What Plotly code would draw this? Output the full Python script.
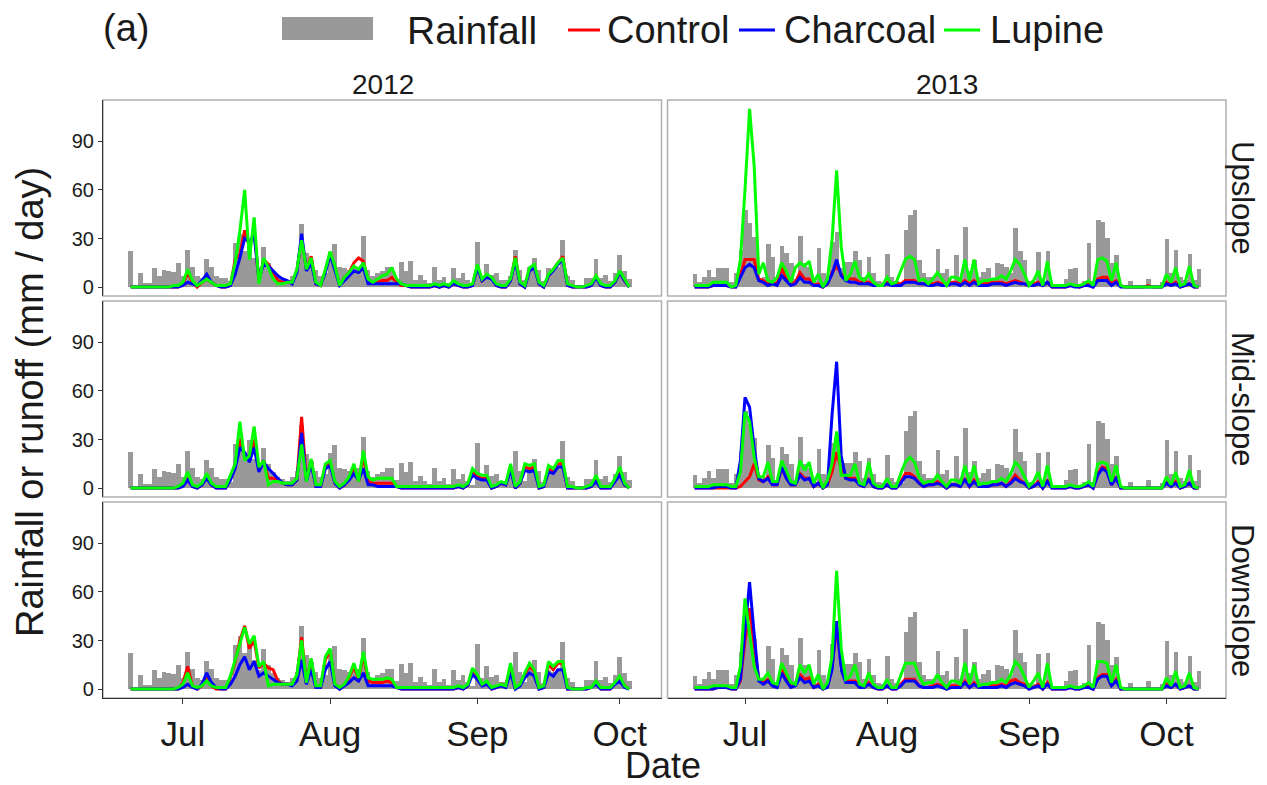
import pandas as pd
import plotly.graph_objects as go
from plotly.subplots import make_subplots

# ---------------- data ----------------
start_2012 = "2012-06-20"
start_2013 = "2013-06-20"
month_ticks = ["Jul", "Aug", "Sep", "Oct"]
slopes = ["Upslope", "Mid-slope", "Downslope"]
years = ["2012", "2013"]

rain_2012 = [22, 0, 8.6, 2.5, 2.5, 11.5, 6.6, 10.7, 10, 9.6,
             15, 6.6, 22.6, 12.3, 6.6, 5.5, 17.3, 12.7, 7, 5.5,
             5.5, 3.5, 27, 33, 22, 30, 18, 12, 24.5, 15,
             10, 6.6, 5.5, 4.5, 6.6, 10.7, 39, 21, 17, 10.7,
             6.6, 8.6, 21.6, 26.7, 12.7, 11.7, 10.7, 12.7, 12.7, 31.6,
             10.7, 6.6, 8.6, 10, 12.7, 12.7, 5, 15.2, 10, 16.2,
             4.5, 7.6, 4.5, 2.3, 12.7, 4.5, 6.2, 2.5, 11.7, 5.5,
             8.6, 4.5, 2, 28, 6.6, 14.2, 7.6, 8.6, 4.5, 4.5,
             6.6, 22.6, 10.7, 4.5, 12.3, 17.9, 10.7, 4, 11.5, 10.7,
             12.7, 29, 6.6, 4.5, 0, 0, 5.5, 5.5, 17.3, 5.5,
             7.6, 3.5, 8.6, 20, 9.7, 5]

rain_2013 = [7.8, 3.3, 6.4, 10.5, 6.4, 12, 12, 12, 3.3, 8.4,
             22.8, 47.5, 39.7, 31, 5, 6, 26.3, 18.5, 4, 25.3,
             20.8, 14.6, 5, 31.4, 14.6, 12.7, 4, 24.1, 8.4, 3,
             28, 34, 12, 15.6, 15.6, 22.2, 16.6, 6, 18.7, 8.4,
             4, 3, 20.3, 6.4, 4, 3, 35.1, 44.4, 47.5, 16.6,
             8.4, 6, 6, 23.6, 8.4, 11, 4, 19.7, 6, 37.2,
             10, 17, 6, 9.4, 11.5, 5, 15, 14, 12.5, 9,
             36.6, 22.4, 16.6, 4, 3, 21.8, 3, 22.4, 2, 0,
             0, 5, 11, 11.5, 0, 4, 27.3, 4, 41.7, 40.3,
             30.4, 14.6, 19.7, 0, 0, 3.9, 0, 0, 0, 5.3,
             0, 0, 3, 30, 8.4, 23.2, 6.4, 4.3, 20.3, 4.3, 11.3]

# ----- 2012 runoff -----
up_control_2012 = [0, 0, 0, 0, 0, 0, 0, 0, 0, 0,
                   0, 2, 9, 3, 0, 3, 5, 3, 1, 0,
                   0, 1, 17, 20, 35, 25, 35, 4, 17, 14,
                   9, 4, 3, 3, 3, 10, 30, 11, 19, 2,
                   1, 10, 21, 12, 1, 6, 9, 15, 18, 16,
                   4, 2, 3, 4, 4, 6, 3, 1, 1, 0,
                   0, 0, 0, 0, 1, 0, 1, 0, 2, 1,
                   0, 0, 1, 13, 4, 7, 6, 1, 0, 0,
                   4, 19, 2, 0, 11, 13, 2, 0, 7, 11,
                   15, 19, 1, 0, 0, 0, 0, 1, 7, 1,
                   0, 0, 3, 9, 4, 0]
up_charcoal_2012 = [0, 0, 0, 0, 0, 0, 0, 0, 0, 0,
                    0, 1, 3, 2, 1, 4, 8, 3, 1, 0,
                    0, 1, 8, 18, 30, 28, 32, 5, 14, 13,
                    10, 7, 5, 4, 2, 9, 33, 10, 15, 2,
                    1, 9, 20, 11, 1, 4, 7, 10, 9, 12,
                    2, 2, 2, 2, 2, 2, 2, 2, 1, 0,
                    0, 0, 0, 0, 1, 0, 1, 0, 2, 1,
                    0, 0, 1, 12, 4, 6, 5, 1, 0, 0,
                    4, 16, 2, 0, 10, 12, 2, 0, 7, 10,
                    14, 17, 1, 0, 0, 0, 0, 1, 6, 1,
                    0, 0, 3, 9, 4, 0]
up_lupine_2012 = [0, 0, 0, 0, 0, 0, 0, 0, 0, 1,
                  1, 3, 11, 4, 1, 3, 5, 3, 1, 1,
                  1, 2, 15, 35, 60, 17, 43, 2, 18, 12,
                  5, 2, 2, 3, 3, 11, 29, 11, 18, 3,
                  1, 11, 22, 13, 1, 6, 9, 13, 11, 15,
                  5, 3, 5, 7, 8, 12, 5, 2, 1, 1,
                  1, 1, 1, 1, 2, 1, 2, 1, 4, 2,
                  1, 1, 2, 14, 5, 8, 6, 2, 1, 1,
                  5, 18, 3, 1, 12, 14, 3, 1, 8, 11,
                  15, 18, 2, 1, 0, 0, 1, 2, 7, 2,
                  1, 1, 4, 10, 5, 0]

mid_control_2012 = [0, 0, 0, 0, 0, 0, 0, 0, 0, 0,
                    0, 2, 7, 1, 0, 2, 7, 2, 0, 0,
                    0, 6, 14, 30, 20, 18, 30, 12, 17, 6,
                    6, 5, 3, 2, 2, 5, 44, 5, 17, 1,
                    1, 13, 16, 3, 0, 2, 6, 13, 4, 20,
                    4, 3, 3, 3, 3, 3, 1, 0, 0, 0,
                    0, 0, 0, 0, 0, 0, 0, 0, 0, 1,
                    0, 2, 10, 7, 6, 6, 0, 1, 3, 2,
                    13, 0, 3, 13, 12, 13, 0, 1, 12, 10,
                    15, 15, 0, 0, 0, 0, 0, 1, 6, 0,
                    0, 0, 5, 10, 2, 0]
mid_charcoal_2012 = [0, 0, 0, 0, 0, 0, 0, 0, 0, 0,
                     0, 1, 5, 1, 0, 2, 6, 2, 0, 0,
                     0, 5, 12, 25, 22, 16, 25, 10, 16, 12,
                     9, 6, 3, 2, 2, 5, 34, 4, 15, 1,
                     1, 12, 14, 3, 0, 2, 5, 9, 5, 12,
                     2, 2, 1, 1, 1, 1, 1, 0, 0, 0,
                     0, 0, 0, 0, 0, 0, 0, 0, 0, 1,
                     0, 2, 8, 6, 5, 5, 0, 1, 3, 2,
                     11, 0, 3, 11, 10, 11, 0, 1, 10, 9,
                     13, 13, 0, 0, 0, 0, 0, 1, 4, 0,
                     0, 0, 4, 8, 2, 0]
mid_lupine_2012 = [0, 0, 0, 0, 0, 0, 0, 0, 0, 0,
                   1, 3, 10, 2, 1, 3, 9, 3, 1, 1,
                   1, 8, 15, 41, 17, 20, 38, 13, 17, 2,
                   4, 4, 3, 3, 3, 6, 27, 4, 18, 2,
                   2, 15, 17, 4, 1, 3, 7, 15, 4, 23,
                   7, 5, 6, 6, 6, 6, 1, 1, 1, 1,
                   1, 1, 1, 1, 1, 1, 1, 1, 1, 2,
                   1, 3, 12, 9, 8, 8, 1, 2, 4, 3,
                   15, 1, 4, 15, 14, 15, 1, 2, 14, 12,
                   17, 17, 1, 1, 0, 0, 1, 2, 8, 1,
                   1, 1, 6, 13, 3, 0]

down_control_2012 = [0, 0, 0, 0, 0, 0, 0, 0, 0, 0,
                     0, 4, 14, 2, 0, 2, 6, 2, 0, 0,
                     0, 7, 17, 30, 39, 25, 30, 13, 16, 13,
                     12, 5, 3, 3, 3, 8, 32, 4, 18, 1,
                     1, 18, 24, 3, 0, 3, 7, 14, 6, 21,
                     5, 4, 4, 4, 5, 4, 1, 0, 0, 0,
                     0, 0, 0, 0, 0, 0, 0, 0, 0, 1,
                     0, 2, 12, 8, 3, 4, 0, 1, 3, 2,
                     14, 0, 3, 9, 14, 11, 0, 1, 15, 12,
                     16, 16, 0, 0, 0, 0, 0, 1, 4, 0,
                     0, 0, 4, 7, 2, 0]
down_charcoal_2012 = [0, 0, 0, 0, 0, 0, 0, 0, 0, 0,
                      0, 1, 3, 1, 0, 3, 10, 4, 1, 0,
                      0, 3, 8, 15, 20, 12, 17, 8, 10, 8,
                      6, 4, 3, 3, 2, 5, 18, 3, 12, 1,
                      1, 12, 17, 2, 0, 2, 4, 7, 5, 10,
                      2, 2, 2, 2, 2, 2, 1, 0, 0, 0,
                      0, 0, 0, 0, 0, 0, 0, 0, 0, 1,
                      0, 2, 9, 6, 2, 3, 0, 1, 2, 1,
                      10, 0, 2, 7, 10, 8, 0, 1, 10, 8,
                      12, 12, 0, 0, 0, 0, 0, 1, 3, 0,
                      0, 0, 3, 5, 1, 0]
down_lupine_2012 = [0, 0, 0, 0, 0, 0, 0, 0, 0, 0,
                    1, 3, 10, 2, 1, 2, 5, 2, 1, 1,
                    1, 8, 18, 28, 38, 28, 33, 14, 17, 2,
                    3, 3, 3, 3, 3, 9, 30, 4, 19, 2,
                    2, 20, 25, 3, 1, 3, 8, 16, 7, 23,
                    7, 6, 6, 6, 7, 6, 1, 1, 1, 1,
                    1, 1, 1, 1, 1, 1, 1, 1, 1, 2,
                    1, 3, 13, 9, 3, 5, 1, 2, 3, 2,
                    16, 1, 3, 10, 16, 12, 1, 2, 17, 14,
                    17, 17, 1, 0, 0, 0, 1, 1, 5, 1,
                    1, 1, 4, 8, 2, 0]

# ----- 2013 runoff -----
up_control_2013 = [0, 0, 0, 0, 1, 1, 1, 1, 0, 0,
                   7, 17, 17, 17, 5, 4, 2, 3, 2, 12,
                   5, 2, 3, 9, 5, 5, 1, 2, 0, 2,
                   9, 13, 8, 6, 5, 5, 3, 3, 3, 2,
                   1, 1, 3, 2, 2, 2, 4, 4, 4, 2,
                   2, 2, 2, 3, 2, 1, 3, 3, 2, 4,
                   2, 4, 2, 2, 2, 3, 3, 3, 2, 3,
                   4, 3, 2, 1, 2, 3, 1, 3, 0, 0,
                   0, 0, 1, 1, 0, 1, 2, 1, 5, 6,
                   6, 2, 4, 1, 0, 0, 0, 0, 0, 1,
                   0, 0, 0, 3, 1, 3, 0, 1, 2, 0, 0]
up_charcoal_2013 = [0, 0, 0, 0, 1, 1, 1, 1, 0, 0,
                    6, 12, 14, 12, 4, 3, 1, 2, 1, 7,
                    4, 1, 2, 6, 3, 3, 1, 1, 0, 2,
                    8, 17, 7, 4, 3, 3, 2, 2, 2, 1,
                    1, 1, 2, 1, 1, 1, 3, 3, 3, 2,
                    2, 1, 1, 2, 1, 1, 2, 2, 1, 3,
                    1, 3, 1, 1, 1, 2, 2, 2, 1, 2,
                    3, 2, 2, 1, 1, 2, 1, 3, 0, 0,
                    0, 0, 1, 0, 0, 1, 1, 0, 4, 4,
                    4, 1, 3, 0, 0, 0, 0, 0, 0, 0,
                    0, 0, 0, 2, 1, 2, 0, 1, 2, 0, 0]
up_lupine_2013 = [1, 1, 1, 1, 3, 3, 3, 3, 0, 1,
                  17, 60, 110, 75, 8, 15, 4, 3, 6, 15,
                  10, 3, 12, 15, 13, 16, 3, 8, 0, 5,
                  29, 72, 25, 4, 8, 16, 6, 4, 8, 3,
                  1, 1, 6, 2, 3, 10, 17, 19, 17, 4,
                  5, 2, 5, 9, 5, 1, 6, 6, 4, 17,
                  4, 17, 2, 4, 4, 5, 5, 7, 5, 10,
                  17, 14, 8, 1, 4, 10, 1, 16, 1, 1,
                  1, 1, 2, 1, 1, 2, 4, 1, 17, 18,
                  16, 4, 15, 1, 0, 0, 0, 0, 0, 0,
                  0, 0, 0, 8, 3, 12, 1, 2, 13, 1, 0]

mid_control_2013 = [0, 0, 0, 0, 0, 0, 0, 0, 0, 0,
                    1, 4, 7, 15, 5, 4, 7, 2, 2, 12,
                    7, 2, 2, 9, 6, 6, 1, 3, 0, 2,
                    10, 22, 12, 6, 6, 6, 2, 1, 6, 1,
                    0, 0, 2, 0, 0, 4, 9, 9, 7, 3,
                    1, 2, 2, 4, 2, 0, 2, 2, 1, 6,
                    1, 5, 1, 1, 1, 2, 2, 3, 1, 4,
                    8, 5, 3, 0, 1, 4, 0, 5, 0, 0,
                    0, 0, 1, 0, 0, 1, 2, 0, 9, 13,
                    12, 2, 7, 0, 0, 0, 0, 0, 0, 0,
                    0, 0, 0, 4, 1, 4, 0, 1, 3, 0, 0]
mid_charcoal_2013 = [0, 0, 0, 0, 0, 1, 1, 1, 0, 0,
                     17, 56, 50, 25, 6, 4, 6, 2, 2, 13,
                     6, 2, 2, 8, 5, 6, 1, 3, 0, 2,
                     45, 78, 20, 6, 5, 5, 2, 1, 5, 1,
                     0, 0, 2, 0, 0, 3, 7, 7, 6, 3,
                     1, 2, 2, 3, 2, 0, 2, 2, 1, 5,
                     1, 4, 1, 1, 1, 2, 2, 3, 1, 3,
                     6, 4, 3, 0, 1, 3, 0, 4, 0, 0,
                     0, 0, 1, 0, 0, 1, 2, 0, 8, 12,
                     10, 2, 6, 0, 0, 0, 0, 0, 0, 0,
                     0, 0, 0, 3, 1, 3, 0, 1, 3, 0, 0]
mid_lupine_2013 = [1, 1, 1, 1, 2, 2, 2, 2, 1, 1,
                   10, 47, 41, 19, 7, 7, 16, 4, 4, 17,
                   11, 4, 3, 17, 11, 16, 3, 9, 0, 5,
                   15, 35, 8, 8, 8, 15, 3, 2, 16, 3,
                   1, 1, 6, 1, 1, 9, 16, 19, 16, 7,
                   3, 4, 4, 8, 4, 1, 5, 5, 3, 14,
                   3, 14, 2, 3, 3, 4, 4, 6, 4, 9,
                   16, 13, 7, 1, 4, 10, 1, 14, 1, 1,
                   1, 1, 2, 1, 1, 2, 4, 1, 15, 16,
                   15, 4, 14, 1, 0, 0, 0, 0, 0, 0,
                   0, 0, 0, 7, 2, 10, 1, 2, 11, 1, 0]

down_control_2013 = [0, 0, 0, 0, 0, 1, 1, 1, 0, 0,
                     5, 30, 50, 28, 6, 4, 6, 3, 2, 12,
                     6, 2, 3, 9, 6, 7, 1, 3, 0, 2,
                     14, 38, 14, 5, 5, 5, 2, 1, 4, 1,
                     0, 0, 2, 0, 0, 3, 6, 6, 6, 2,
                     1, 1, 2, 3, 2, 0, 2, 2, 1, 5,
                     1, 4, 1, 1, 1, 2, 2, 3, 2, 5,
                     6, 4, 3, 0, 1, 3, 0, 4, 0, 0,
                     0, 0, 1, 0, 0, 1, 2, 0, 7, 9,
                     9, 2, 6, 0, 0, 0, 0, 0, 0, 0,
                     0, 0, 0, 3, 1, 3, 0, 1, 2, 0, 0]
down_charcoal_2013 = [0, 0, 0, 0, 0, 1, 1, 1, 0, 0,
                      6, 34, 66, 34, 5, 3, 5, 2, 1, 10,
                      5, 1, 2, 7, 4, 5, 1, 2, 0, 1,
                      12, 42, 12, 4, 4, 4, 1, 1, 3, 1,
                      0, 0, 2, 0, 0, 2, 5, 5, 5, 2,
                      1, 1, 1, 2, 1, 0, 1, 1, 1, 4,
                      1, 3, 1, 1, 1, 1, 1, 2, 1, 3,
                      4, 3, 2, 0, 1, 2, 0, 3, 0, 0,
                      0, 0, 1, 0, 0, 1, 1, 0, 6, 8,
                      8, 2, 5, 0, 0, 0, 0, 0, 0, 0,
                      0, 0, 0, 2, 1, 3, 0, 1, 2, 0, 0]
down_lupine_2013 = [1, 1, 1, 1, 2, 2, 2, 2, 1, 1,
                    14, 56, 34, 14, 6, 6, 10, 4, 3, 16,
                    10, 4, 3, 15, 10, 15, 3, 9, 0, 4,
                    20, 73, 25, 6, 8, 15, 3, 2, 10, 3,
                    1, 1, 6, 1, 1, 8, 16, 16, 16, 8,
                    3, 4, 4, 9, 4, 1, 5, 5, 3, 16,
                    3, 15, 2, 3, 3, 4, 4, 6, 4, 9,
                    17, 14, 8, 1, 5, 10, 1, 16, 1, 1,
                    1, 1, 2, 1, 1, 2, 4, 1, 17, 17,
                    16, 4, 15, 1, 0, 0, 0, 0, 0, 0,
                    0, 0, 0, 7, 2, 11, 1, 2, 10, 1, 0]

runoff = {
    "2012": {
        "Upslope": (up_control_2012, up_charcoal_2012, up_lupine_2012),
        "Mid-slope": (mid_control_2012, mid_charcoal_2012, mid_lupine_2012),
        "Downslope": (down_control_2012, down_charcoal_2012, down_lupine_2012),
    },
    "2013": {
        "Upslope": (up_control_2013, up_charcoal_2013, up_lupine_2013),
        "Mid-slope": (mid_control_2013, mid_charcoal_2013, mid_lupine_2013),
        "Downslope": (down_control_2013, down_charcoal_2013, down_lupine_2013),
    },
}
rain = {"2012": rain_2012, "2013": rain_2013}
dates = {"2012": pd.date_range(start_2012, periods=len(rain_2012), freq="D"),
         "2013": pd.date_range(start_2013, periods=len(rain_2013), freq="D")}
x_ranges = {"2012": ["2012-06-14 04:00", "2012-10-09 19:00"],
            "2013": ["2013-06-14 02:00", "2013-10-14 00:00"]}

treat_names = ["Control", "Charcoal", "Lupine"]
treat_colors = ["#FF0000", "#0000FF", "#00FF00"]
rain_color = "#999999"
FONT = "Arial, Liberation Sans, sans-serif"
TXT = "#1a1a1a"

# ---------------- figure ----------------
W, H = 1267, 785
L, R, T, B = 103, 41, 100, 87
fig = make_subplots(rows=3, cols=2, horizontal_spacing=6 / (W - L - R),
                    vertical_spacing=5 / (H - T - B))

for ci, yr in enumerate(years, start=1):
    for ri, sl in enumerate(slopes, start=1):
        fig.add_trace(go.Bar(x=dates[yr], y=rain[yr], width=86400000,
                             marker=dict(color=rain_color, line=dict(width=0)),
                             name="Rainfall", showlegend=False),
                      row=ri, col=ci)
        for name, col, vals in zip(treat_names, treat_colors, runoff[yr][sl]):
            assert len(vals) == len(rain[yr]), (yr, sl, name, len(vals))
            fig.add_trace(go.Scatter(x=dates[yr], y=vals, mode="lines",
                                     line=dict(color=col, width=3),
                                     name=name, showlegend=False),
                          row=ri, col=ci)

for ci, yr in enumerate(years, start=1):
    tv = [f"{yr}-07-01", f"{yr}-08-01", f"{yr}-09-01", f"{yr}-10-01"]
    for ri in range(1, 4):
        bottom = ri == 3
        fig.update_xaxes(row=ri, col=ci, type="date", range=x_ranges[yr],
                         showgrid=False, zeroline=False,
                         tickvals=tv, ticktext=month_ticks,
                         showticklabels=bottom, ticks="outside" if bottom else "",
                         ticklen=5, tickcolor="#333333", tickwidth=1.2,
                         tickfont=dict(family=FONT, size=35, color=TXT),
                         showline=bottom, linecolor="#333333", linewidth=1.2)
        left = ci == 1
        fig.update_yaxes(row=ri, col=ci, range=[-5.5, 115.5],
                         showgrid=False, zeroline=False,
                         tickvals=[0, 30, 60, 90],
                         showticklabels=left, ticks="outside" if left else "",
                         ticklen=4, tickcolor="#333333", tickwidth=1.2,
                         tickfont=dict(family=FONT, size=20, color=TXT),
                         showline=left, linecolor="#333333", linewidth=1.2)

# panel borders
for i in range(1, 7):
    sfx = "" if i == 1 else str(i)
    fig.add_shape(type="rect", xref=f"x{sfx} domain", yref=f"y{sfx} domain",
                  x0=0, x1=1, y0=0, y1=1, layer="below",
                  line=dict(color="#b0b0b0", width=1.5), fillcolor="rgba(0,0,0,0)")


def px(x):
    return (x - L) / (W - L - R)


def py(y):
    return (H - B - y) / (H - T - B)


def label(text, x, y, size, xanchor="center", angle=0):
    return dict(text=text, x=px(x), y=py(y), xref="paper", yref="paper",
                xanchor=xanchor, yanchor="middle", textangle=angle,
                showarrow=False, font=dict(family=FONT, size=size, color=TXT))


ann = []
# strip labels
for ci, yr in enumerate(years):
    cx = (103 + 662) / 2 if ci == 0 else (668 + 1226) / 2
    ann.append(label(yr, cx, 85, 28))
for sl, cy in zip(slopes, [198, 399, 600]):
    ann.append(label(sl, 1243, cy, 31, angle=90))
# axis titles
ann.append(label("Date", 663, 765, 36))
ann.append(label("Rainfall or runoff (mm / day)", 30, 402, 38, angle=-90))
# legend / panel tag
ann.append(label("(a)", 101, 28, 38, xanchor="left"))
ann.append(label("Rainfall", 405, 30, 39, xanchor="left"))
leg_pos = [(568, 600, 605), (739, 775, 782), (944, 980, 988)]
for name, col, (x0, x1, xt) in zip(treat_names, treat_colors, leg_pos):
    fig.add_shape(type="line", xref="paper", yref="paper", x0=px(x0), x1=px(x1),
                  y0=py(30), y1=py(30), line=dict(color=col, width=3))
    ann.append(label(name, xt, 30, 38, xanchor="left"))
fig.add_shape(type="rect", xref="paper", yref="paper", x0=px(282), x1=px(373),
              y0=py(40), y1=py(17), fillcolor=rain_color, line=dict(width=0))

fig.update_layout(width=W, height=H, margin=dict(l=L, r=R, t=T, b=B),
                  paper_bgcolor="white", plot_bgcolor="white",
                  bargap=0, barmode="overlay", showlegend=False,
                  annotations=ann, font=dict(family=FONT))

fig.write_html("out.html", config={"displayModeBar": False},
               post_script="document.body.style.margin='0';document.body.style.padding='0';")
